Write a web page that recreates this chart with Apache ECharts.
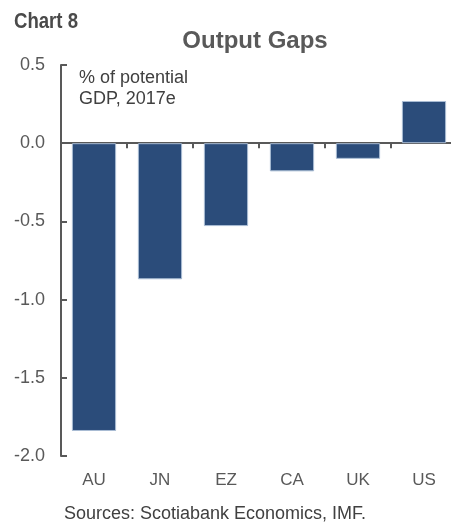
<!DOCTYPE html>
<html>
<head>
<meta charset="utf-8">
<script src="https://cdn.jsdelivr.net/npm/echarts@6/dist/echarts.min.js"></script>
<style>
  html, body { margin: 0; padding: 0; background: #fff; overflow: hidden; }
  /* the plot area runs slightly past the right edge of the window */
  #chart { width: 460px; height: 523px; }
</style>
</head>
<body>
<div id="chart"></div>
<script>
// Output gaps by economy, % of potential GDP, 2017 estimates
const categories = ['AU', 'JN', 'EZ', 'CA', 'UK', 'US'];
const outputGap = [-1.84, -0.87, -0.53, -0.18, -0.10, 0.27];
const yTicks = { min: -2.0, max: 0.5, step: 0.5 };

const axisGrey = '#595959';
const font = 'Liberation Sans, Arial, sans-serif';

const chart = echarts.init(document.getElementById('chart'), null, { renderer: 'canvas' });

chart.setOption({
  animation: false,
  backgroundColor: '#ffffff',
  graphic: [
    {
      // condensed bold chart number
      type: 'text', x: 14, y: 11, scaleX: 0.845,
      style: { text: 'Chart 8', font: 'bold 22px ' + font, fill: '#4a4a4a', textVerticalAlign: 'top' }
    },
    {
      type: 'text', x: 255, y: 29,
      style: { text: 'Output Gaps', font: 'bold 24px ' + font, fill: '#595959', textAlign: 'center', textVerticalAlign: 'top' }
    },
    {
      type: 'text', x: 79, y: 68,
      style: { text: '% of potential\nGDP, 2017e', font: '18px ' + font, fill: '#404040', lineHeight: 21, textVerticalAlign: 'top' }
    },
    {
      type: 'text', x: 215, y: 505,
      style: { text: 'Sources: Scotiabank Economics, IMF.', font: '18px ' + font, fill: '#404040', textAlign: 'center', textVerticalAlign: 'top' }
    }
  ],
  grid: { left: 61, right: 3, top: 65, bottom: 67, containLabel: false },
  xAxis: [
    {
      type: 'category',
      data: categories,
      axisLine: { onZero: true, lineStyle: { color: axisGrey, width: 2 } },
      axisTick: { show: true, length: 5, lineStyle: { color: axisGrey, width: 2 } },
      axisLabel: { show: false },
      splitLine: { show: false }
    },
    {
      type: 'category',
      data: categories,
      position: 'bottom',
      axisLine: { show: false },
      axisTick: { show: false },
      axisLabel: { show: true, color: axisGrey, fontFamily: font, fontSize: 17, margin: 16 },
      splitLine: { show: false }
    }
  ],
  yAxis: {
    type: 'value',
    min: yTicks.min, max: yTicks.max, interval: yTicks.step,
    axisLine: { show: true, lineStyle: { color: axisGrey, width: 2 } },
    axisTick: { show: true, inside: true, length: 6, lineStyle: { color: axisGrey, width: 2 } },
    axisLabel: { color: axisGrey, fontFamily: font, fontSize: 18, margin: 16, formatter: v => v.toFixed(1) },
    splitLine: { show: false }
  },
  series: [
    {
      type: 'bar',
      xAxisIndex: 0,
      data: outputGap,
      barWidth: '67%',
      itemStyle: { color: '#2b4c7a', borderColor: '#a9bcd4', borderWidth: 1 },
      z: 1
    }
  ]
});
</script>
</body>
</html>
